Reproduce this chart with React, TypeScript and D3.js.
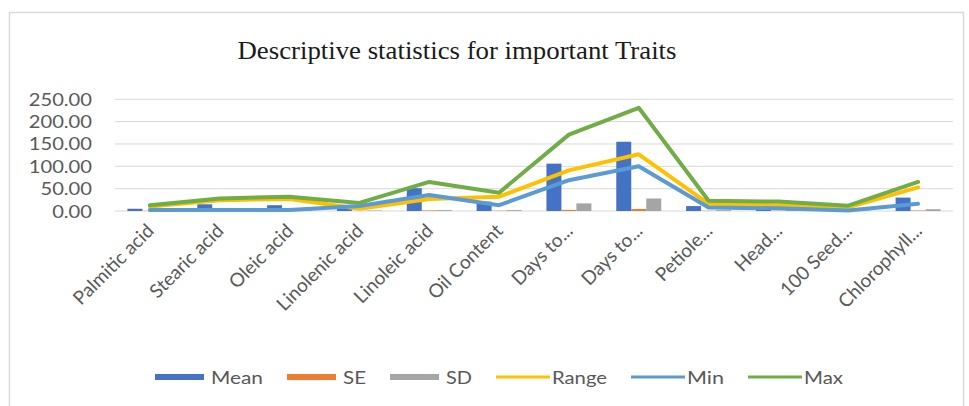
import React from "react";
import * as d3 from "d3";

const categories = ["Palmitic acid","Stearic acid","Oleic acid","Linolenic acid","Linoleic acid","Oil Content","Days to...","Days to...","Petiole...","Head...","100 Seed...","Chlorophyll..."];
const meanValues = [5, 15, 13, 8, 51, 21, 106, 155, 11, 10, 4, 30];
const seValues = [0.3, 0.5, 0.6, 0.3, 1.2, 0.6, 2.5, 4.5, 0.5, 0.5, 0.3, 1.0];
const sdValues = [1, 2, 2, 1, 2, 2, 17, 28, 2, 3, 1, 4];
const rangeValues = [10, 24, 27, 5, 27, 32, 91, 127, 16, 13, 8, 53];
const minValues = [2, 2, 2, 11, 36, 13, 69, 100, 8, 6, 1, 16];
const maxValues = [13, 28, 32, 18, 65, 41, 171, 231, 23, 21, 12, 65];
const yTicks = [0, 50, 100, 150, 200, 250];
const title = "Descriptive statistics for important Traits";

const W = 969, H = 406;
const left = 115, right = 953, top = 99.3, bottom = 211;
const labelFont = "Lato, 'Open Sans', sans-serif";
const textColor = "#595959";

export default function App() {
  const idx = categories.map((_, i) => String(i));
  const x = d3.scaleBand().domain(idx).range([left, right]).padding(0);
  const bw = x.bandwidth();
  const sub = d3.scaleBand().domain(["Mean", "SE", "SD"]).range([0, bw]).paddingInner(0).paddingOuter(0.83);
  const y = d3.scaleLinear().domain([0, 250]).range([bottom, top]);
  const cx = (i: number) => (x(String(i)) as number) + bw / 2;

  const barSeries = [
    { name: "Mean", values: meanValues, color: "#4472C4" },
    { name: "SE", values: seValues, color: "#ED7D31" },
    { name: "SD", values: sdValues, color: "#A5A5A5" },
  ];
  const lineSeries = [
    { name: "Range", values: rangeValues, color: "#FFC000" },
    { name: "Min", values: minValues, color: "#5B9BD5" },
    { name: "Max", values: maxValues, color: "#70AD47" },
  ];
  const line = d3.line<number>().x((_, i) => cx(i)).y((d) => y(d));

  const legendItems = [
    { name: "Mean", type: "bar", color: "#4472C4", w: 52 },
    { name: "SE", type: "bar", color: "#ED7D31", w: 23 },
    { name: "SD", type: "bar", color: "#A5A5A5", w: 26 },
    { name: "Range", type: "line", color: "#FFC000", w: 55 },
    { name: "Min", type: "line", color: "#5B9BD5", w: 37 },
    { name: "Max", type: "line", color: "#70AD47", w: 39 },
  ];
  let lx = 155;
  const legendPos = legendItems.map((it) => {
    const p = { ...it, x: lx };
    lx += 56 + it.w + 24;
    return p;
  });
  const ly = 377;

  return (
    <svg width={W} height={H} style={{ position: "absolute", left: 0, top: 0, background: "#fff" }}>
      <rect x={9.5} y={12.5} width={954} height={400} fill="#fff" stroke="#d9d9d9" strokeWidth={1.5} />
      <text x={457} y={59} textAnchor="middle" fontFamily="'Liberation Serif', 'Times New Roman', serif" fontSize={26} fill="#1a1a1a" textLength={439} lengthAdjust="spacingAndGlyphs">{title}</text>
      {yTicks.map((t) => (
        <g key={t}>
          <line x1={left} x2={right} y1={y(t)} y2={y(t)} stroke="#d9d9d9" strokeWidth={1} />
          <text transform={`translate(92,${y(t) + 6.5}) scale(1.12,1)`} textAnchor="end" fontFamily={labelFont} fontSize={18} fill={textColor}>{d3.format(".2f")(t)}</text>
        </g>
      ))}
      {barSeries.map((s) => (
        <g key={s.name}>
          {s.values.map((v, i) => (
            <rect key={i} x={(x(String(i)) as number) + (sub(s.name) as number)} y={y(v)} width={sub.bandwidth()} height={y(0) - y(v)} fill={s.color} />
          ))}
        </g>
      ))}
      {lineSeries.map((s) => (
        <path key={s.name} d={line(s.values) || ""} fill="none" stroke={s.color} strokeWidth={4} strokeLinejoin="round" strokeLinecap="round" />
      ))}
      {categories.map((c, i) => (
        <text key={i} transform={`translate(${cx(i) + 5},${232}) rotate(-45)`} textAnchor="end" fontFamily={labelFont} fontSize={19} fill={textColor}>{c}</text>
      ))}
      {legendPos.map((it) => (
        <g key={it.name}>
          {it.type === "bar" ? (
            <rect x={it.x} y={ly - 3} width={49} height={6} fill={it.color} />
          ) : (
            <line x1={it.x} x2={it.x + 54} y1={ly} y2={ly} stroke={it.color} strokeWidth={3} />
          )}
          <text x={it.x + 56} y={ly + 7} fontFamily={labelFont} fontSize={18} fill={textColor} textLength={it.w} lengthAdjust="spacingAndGlyphs">{it.name}</text>
        </g>
      ))}
    </svg>
  );
}
